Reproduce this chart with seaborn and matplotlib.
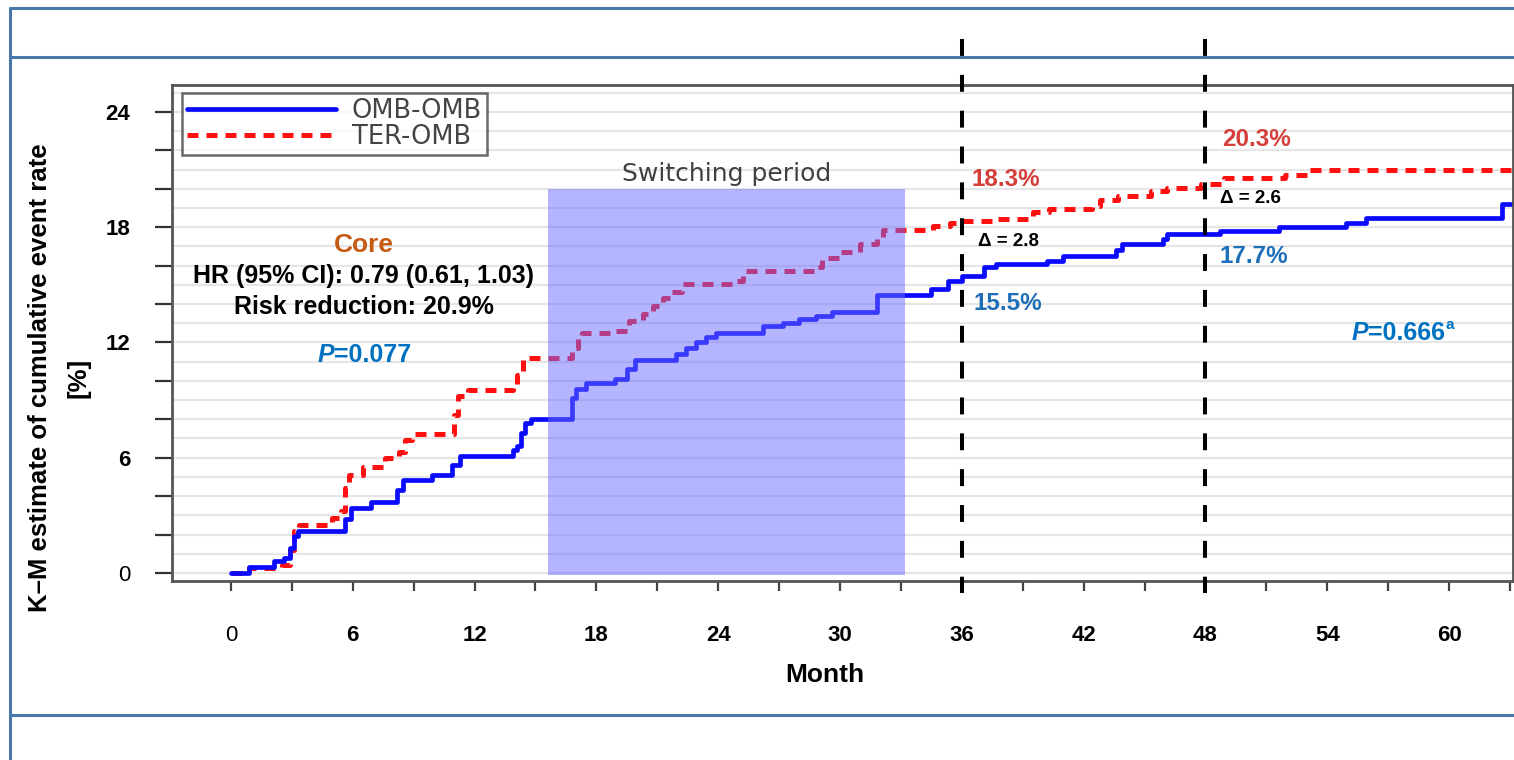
import pandas as pd
import seaborn as sns
import matplotlib.pyplot as plt
from matplotlib.lines import Line2D
from matplotlib.ticker import MultipleLocator, FuncFormatter

# K-M step curves (month, cumulative event rate %)
omb_month = [0, 0.9, 2.1, 2.6, 2.9, 3.1, 3.3, 5.6, 5.9, 6.9, 8.2, 8.5, 9.9, 10.9, 11.3,
             13.9, 14.1, 14.3, 14.5, 14.8, 16.8, 17.0, 17.5, 18.9, 19.5, 19.9,
             21.9, 22.4, 22.9, 23.4, 23.9, 26.2, 27.2, 28.0, 28.8, 29.6, 31.8,
             34.5, 35.3, 36.0, 37.1, 37.7, 40.2, 41.0, 43.6, 43.9, 45.9, 46.1,
             48.7, 51.6, 54.9, 55.9, 62.6, 64.0]
omb_rate = [0, 0.33, 0.64, 0.8, 1.3, 1.9, 2.2, 2.8, 3.37, 3.7, 4.3, 4.85, 5.1, 5.6, 6.1,
            6.4, 6.6, 7.3, 7.8, 8.0, 9.1, 9.6, 9.9, 10.1, 10.6, 11.1,
            11.4, 11.7, 12.0, 12.3, 12.5, 12.85, 13.0, 13.2, 13.4, 13.6, 14.45,
            14.8, 15.2, 15.45, 15.9, 16.1, 16.25, 16.5, 16.8, 17.1, 17.4, 17.65,
            17.8, 18.0, 18.2, 18.5, 19.2, 19.2]

ter_month = [0, 0.9, 2.5, 2.9, 3.1, 3.35, 5.0, 5.4, 5.6, 5.8, 6.5, 7.6, 8.3, 8.6, 8.9,
             11.0, 11.2, 11.7, 13.9, 14.1, 14.4, 16.8, 17.1, 17.3, 18.8, 19.6, 20.3,
             20.8, 21.3, 21.7, 22.2, 24.9, 25.2, 28.7, 29.1, 30.0, 31.0, 31.8, 32.1,
             34.6, 35.4, 36.0, 37.8, 39.5, 40.3, 42.4, 42.8, 43.7, 45.3, 46.1, 47.8,
             48.9, 51.9, 53.0, 64.0]
ter_rate = [0, 0.25, 0.4, 1.2, 2.2, 2.5, 2.85, 3.2, 4.4, 5.1, 5.5, 6.0, 6.3, 6.9, 7.25,
            8.2, 9.2, 9.5, 9.7, 10.3, 11.2, 11.7, 12.3, 12.5, 12.6, 13.1, 13.5,
            13.9, 14.3, 14.6, 15.05, 15.2, 15.7, 15.9, 16.4, 16.7, 17.1, 17.4, 17.85,
            18.05, 18.2, 18.3, 18.4, 18.8, 18.95, 19.1, 19.4, 19.6, 19.9, 20.05, 20.25,
            20.55, 20.7, 21.0, 21.0]

switch_start, switch_end, switch_top = 15.6, 33.2, 20.0
landmarks = [36, 48]
month_ticks = list(range(0, 61, 6))

omb = pd.DataFrame({"Month": omb_month, "Rate": omb_rate})
ter = pd.DataFrame({"Month": ter_month, "Rate": ter_rate})

sns.set_theme(style="white", rc={"axes.facecolor": "white", "figure.facecolor": "white"})
plt.rcParams["font.family"] = ["Liberation Sans", "DejaVu Sans"]

blue_txt = "#1f6fb8"
pblue = "#0070c0"
red_txt = "#d43f3a"
core_col = "#c55a11"
frame_col = "#4a78a8"

fig = plt.figure(figsize=(15.14, 7.6), dpi=100)
ax = fig.add_axes([172 / 1514, 1 - 581 / 760, 1341 / 1514, 496 / 760])

# slide table lines
for yy in [8, 57, 715]:
    fig.add_artist(Line2D([10 / 1514, 1], [1 - yy / 760] * 2, transform=fig.transFigure,
                          color=frame_col, lw=2.2))
fig.add_artist(Line2D([10 / 1514] * 2, [0, 1 - 8 / 760], transform=fig.transFigure,
                      color=frame_col, lw=2.2))

sns.lineplot(data=omb, x="Month", y="Rate", ax=ax, drawstyle="steps-post", color="#0a0aff",
             lw=3.4, label="OMB-OMB", sort=False, zorder=2.2)
sns.lineplot(data=ter, x="Month", y="Rate", ax=ax, drawstyle="steps-post", color="#ff1010",
             lw=3.6, linestyle=(0, (2.2, 1.6)), label="TER-OMB", sort=False, zorder=2.1)

ax.fill_between([switch_start, switch_end], -0.1, switch_top, color="#6a6aff", alpha=0.5,
                lw=0, zorder=3)
ax.text((switch_start + switch_end) / 2, switch_top + 0.78, "Switching period", ha="center",
        va="center", fontsize=18, color="#404040", family="DejaVu Sans")

for m in landmarks:
    ax.plot([m, m], [27.8, -1.05], color="black", lw=2.9, linestyle=(0, (4.2, 4.7)),
            clip_on=False, zorder=4)

ax.set_xlim(-2.9, 63.15)
ax.set_ylim(-0.42, 25.4)

ax.yaxis.set_major_locator(MultipleLocator(2))
ax.yaxis.set_minor_locator(MultipleLocator(1))
ax.yaxis.set_major_formatter(FuncFormatter(lambda v, _: f"{int(round(v))}" if round(v) % 6 == 0 else ""))
ax.grid(axis="y", which="both", color="#e6e6e6", lw=1.6)
ax.set_axisbelow(True)
ax.tick_params(axis="y", which="minor", length=0)
ax.tick_params(axis="y", which="major", left=True, length=12, width=1.6, color="#333333",
               pad=18, labelsize=16, labelcolor="black")

ax.set_xticks(month_ticks)
ax.set_xticklabels([str(t) for t in month_ticks])
ax.xaxis.set_minor_locator(MultipleLocator(3))
ax.tick_params(axis="x", which="both", bottom=True, length=7, width=1.6, color="#444444",
               pad=25, labelsize=16, labelcolor="black")

for lbl in ax.get_xticklabels() + ax.get_yticklabels():
    lbl.set_fontweight("normal" if lbl.get_text() == "0" else "bold")

for s in ax.spines.values():
    s.set_color("#555555")
    s.set_linewidth(2)

ax.set_ylabel("K\u2013M estimate of cumulative event rate\n[%]", fontsize=18.5,
              fontweight="bold", linespacing=1.75, color="black")
ax.yaxis.set_label_coords(-0.061, 0.41)
ax.set_xlabel("Month", fontsize=19, fontweight="bold", color="black")
ax.xaxis.set_label_coords(0.487, -0.165)

leg = ax.legend(loc="upper left", bbox_to_anchor=(0.0075, 0.984), borderaxespad=0,
                frameon=True, fancybox=False, edgecolor="#444444", labelcolor="#444444",
                prop={"family": "DejaVu Sans", "size": 18.5}, handlelength=5.8,
                handletextpad=0.6, labelspacing=0.0, borderpad=0.2)
leg.get_frame().set_linewidth(1.8)
leg.set_zorder(5)


def p_value(x, y, value, ha_sup=False):
    t1 = ax.text(x, y, "P", style="italic", fontweight="bold", color=pblue, fontsize=18,
                 va="center", ha="left")
    t2 = ax.annotate(value, xy=(1, 0), xycoords=t1, va="bottom", ha="left",
                     fontweight="bold", color=pblue, fontsize=18)
    if ha_sup:
        ax.annotate("a", xy=(1, 0.55), xycoords=t2, va="bottom", ha="left",
                    fontweight="bold", color=pblue, fontsize=11)


ax.text(6.55, 17.08, "Core", ha="center", va="center", fontsize=19, fontweight="bold",
        color=core_col)
ax.text(6.55, 15.47, "HR (95% CI): 0.79 (0.61, 1.03)", ha="center", va="center",
        fontsize=18, fontweight="bold", color="black")
ax.text(6.55, 13.85, "Risk reduction: 20.9%", ha="center", va="center", fontsize=18,
        fontweight="bold", color="black")
p_value(4.25, 11.35, "=0.077")
p_value(55.2, 12.5, "=0.666", ha_sup=True)

ax.text(36.5, 20.5, "18.3%", ha="left", va="center", fontsize=17.5, fontweight="bold", color=red_txt)
ax.text(36.8, 17.24, "\u0394 = 2.8", ha="left", va="center", fontsize=13.5, fontweight="bold", color="black")
ax.text(36.6, 14.0, "15.5%", ha="left", va="center", fontsize=17.5, fontweight="bold", color=blue_txt)
ax.text(48.8, 22.55, "20.3%", ha="left", va="center", fontsize=17.5, fontweight="bold", color=red_txt)
ax.text(48.7, 19.48, "\u0394 = 2.6", ha="left", va="center", fontsize=13.5, fontweight="bold", color="black")
ax.text(48.7, 16.46, "17.7%", ha="left", va="center", fontsize=17.5, fontweight="bold", color=blue_txt)

fig.savefig("out.png", dpi=100)
